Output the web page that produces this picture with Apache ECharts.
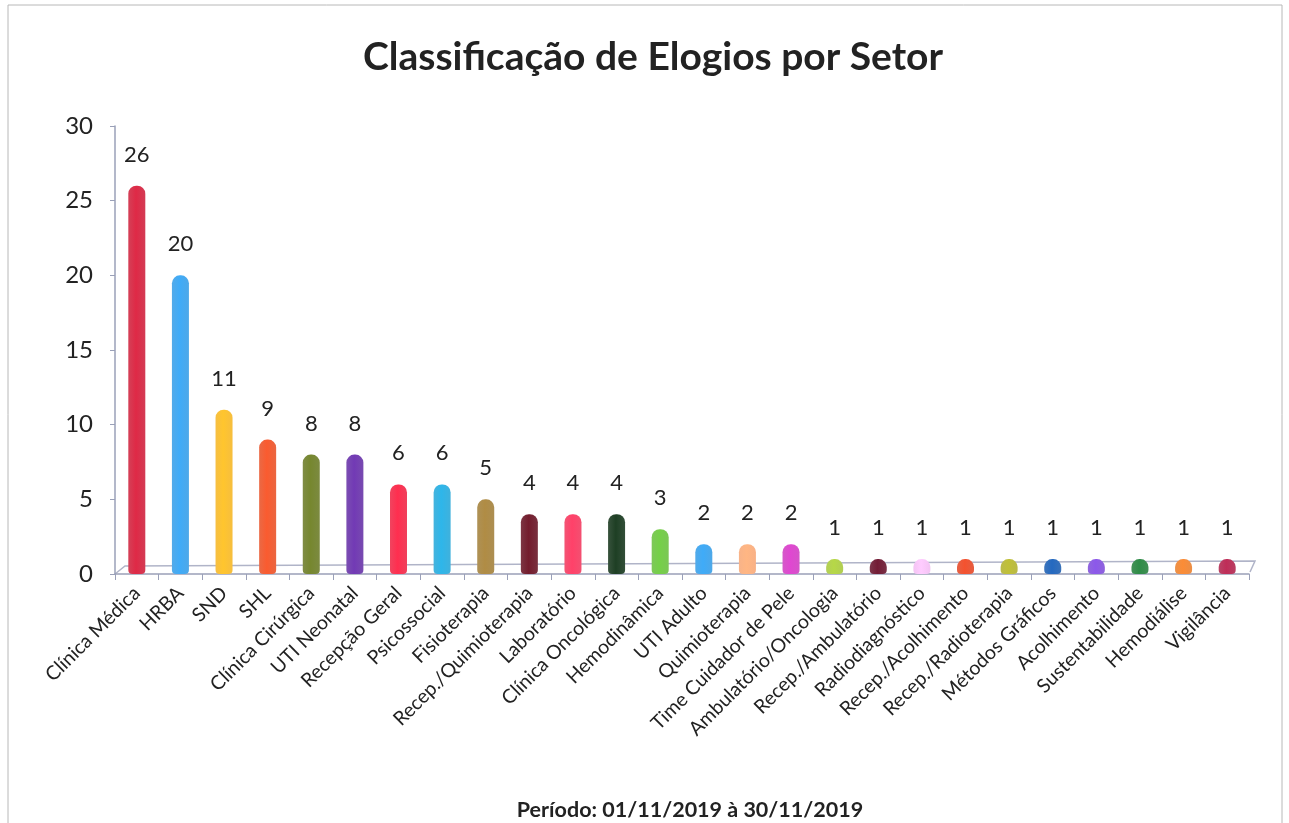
<!DOCTYPE html>
<html>
<head>
<meta charset="utf-8">
<script src="https://cdn.jsdelivr.net/npm/echarts@6/dist/echarts.min.js"></script>
<style>
  html, body { margin: 0; padding: 0; background: #fff; }
  #chart { width: 1289px; height: 823px; }
</style>
</head>
<body>
<div id="chart"></div>
<script>
const setores = [
  "Clínica Médica", "HRBA", "SND", "SHL", "Clínica Cirúrgica", "UTI Neonatal",
  "Recepção Geral", "Psicossocial", "Fisioterapia", "Recep./Quimioterapia",
  "Laboratório", "Clínica Oncológica", "Hemodinâmica", "UTI Adulto", "Quimioterapia",
  "Time Cuidador de Pele", "Ambulatório/Oncologia", "Recep./Ambulatório",
  "Radiodiagnóstico", "Recep./Acolhimento", "Recep./Radioterapia", "Métodos Gráficos",
  "Acolhimento", "Sustentabilidade", "Hemodiálise", "Vigilância"
];
const elogios = [26, 20, 11, 9, 8, 8, 6, 6, 5, 4, 4, 4, 3, 2, 2, 2, 1, 1, 1, 1, 1, 1, 1, 1, 1, 1];
const cores = [
  "#cf2641", "#3b9fe6", "#f5b72a", "#e8552c", "#6e7d2c", "#6a36a8",
  "#ee2b4a", "#2ba9d9", "#a3823f", "#6b1a2a", "#f23d62", "#1c3b22",
  "#6dc143", "#3b9fe6", "#f8a97a", "#d042c2", "#a9c842", "#6b1a32",
  "#f2bdf2", "#e24c2c", "#b2b234", "#2262b2", "#8252d9", "#2b8242",
  "#e98232", "#b12a52"
];
const yTicks = [0, 5, 10, 15, 20, 25, 30];

const chart = echarts.init(document.getElementById("chart"));

// cilindro: degradê horizontal suave
function cilindro(c) {
  return new echarts.graphic.LinearGradient(0, 0, 1, 0, [
    { offset: 0, color: echarts.color.lift(c, 0.12) },
    { offset: 0.45, color: echarts.color.lift(c, -0.08) },
    { offset: 1, color: echarts.color.lift(c, 0.1) }
  ]);
}

const option = {
  backgroundColor: "#fff",
  title: [
    {
      text: "Classificação de Elogios por Setor",
      left: 648,
      textAlign: "center",
      top: 33,
      textStyle: { fontFamily: "Lato", fontWeight: "bold", fontSize: 39, color: "#222" }
    },
    {
      text: "Período: 01/11/2019 à 30/11/2019",
      left: 685,
      textAlign: "center",
      top: 794,
      textStyle: { fontFamily: "Lato", fontWeight: "bold", fontSize: 21.5, color: "#222" }
    }
  ],
  graphic: [
    {
      type: "rect",
      shape: { x: 8, y: 5, width: 1274, height: 830 },
      style: { fill: "none", stroke: "#b8b8b8", lineWidth: 1 }
    },
    {
      // borda de fundo do piso 3D
      type: "polyline",
      shape: { points: [[115, 574], [125, 566], [1255, 561], [1250, 572]] },
      style: { fill: "none", stroke: "#b0b4c8", lineWidth: 1.5 }
    }
  ],
  grid: { left: 115, right: 40, top: 126, bottom: 249 },
  xAxis: {
    type: "category",
    data: setores,
    axisLine: { lineStyle: { color: "#9aa0b8", width: 1.5 } },
    axisTick: { show: true, length: 6, lineStyle: { color: "#9aa0b8" } },
    axisLabel: {
      rotate: 45,
      interval: 0,
      margin: 16,
      fontFamily: "Lato",
      fontSize: 19.5,
      color: "#222"
    }
  },
  yAxis: {
    type: "value",
    min: 0,
    max: 30,
    interval: 5,
    axisLine: { show: true, lineStyle: { color: "#9aa0b8", width: 1.5 } },
    axisTick: { show: true, length: 5, lineStyle: { color: "#9aa0b8" } },
    splitLine: { show: false },
    axisLabel: {
      fontFamily: "Lato",
      fontSize: 24,
      color: "#222",
      margin: 22,
      formatter: v => (yTicks.includes(v) ? String(v) : "")
    }
  },
  series: [
    {
      type: "bar",
      barWidth: 17,
      data: elogios.map((v, i) => ({
        value: v,
        itemStyle: { color: cilindro(cores[i]), borderRadius: [8, 8, 4, 4] }
      })),
      label: {
        show: true,
        position: "top",
        distance: 20,
        fontFamily: "Lato",
        fontSize: 22,
        color: "#222"
      }
    }
  ]
};

chart.setOption(option);
</script>
</body>
</html>
